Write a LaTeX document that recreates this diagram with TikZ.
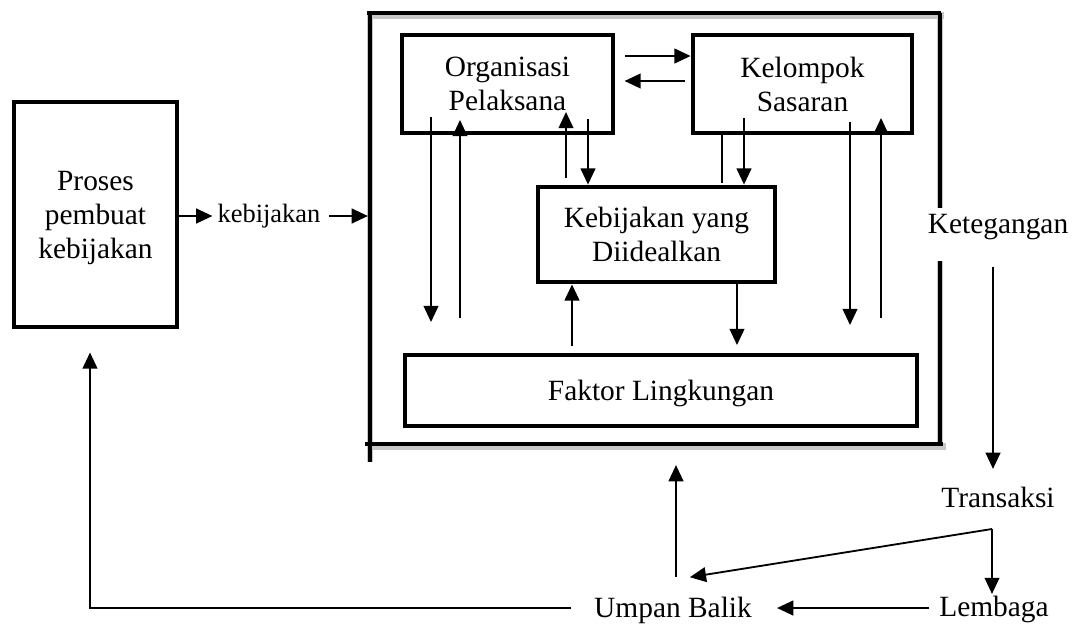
\documentclass[tikz,border=0pt]{standalone}
\usepackage{fontspec}
\setmainfont{Liberation Serif}
\usetikzlibrary{arrows.meta, positioning}

\tikzset{
  kotak/.style={draw, line width=3.4pt, align=center, text depth=0pt,
    font=\fontsize{20.9}{24.2}\selectfont},
  teks/.style={inner sep=1pt, font=\fontsize{20.9}{24.2}\selectfont},
  panah/.style={line width=1.3pt, -{Triangle[length=11.5pt,width=10.5pt]}},
  garis/.style={line width=1.3pt},
  bingkai/.style={line width=3.2pt},
  bayang/.style={line width=4.5pt, black!22},
}

\begin{document}
\begin{tikzpicture}[x=0.025cm, y=-0.025cm]
\useasboundingbox (0,0) rectangle (1079,626);

% bingkai luar
\coordinate (fA) at (370,13);
\coordinate (fB) at (940,13);
\coordinate (fC) at (940,208);
\coordinate (fD) at (940,261);
\coordinate (fE) at (940,444);
\coordinate (fF) at (370,462);
\begin{scope}[shift={(2.5,2.5)}]
\draw[bayang] (367,13) -- (941,13);
\draw[bayang] (fA) -- (fF);
\draw[bayang] (fB) -- (fC);
\draw[bayang] (fD) -- (fE);
\draw[bayang] (365,444) -- (943,444);
\end{scope}
\draw[bingkai] (367,13) -- (941,13);
\draw[bingkai] (fA) -- (fF);
\draw[bingkai] (fB) -- (fC);
\draw[bingkai] (fD) -- (fE);
\draw[bingkai] (365,444) -- (943,444);

% kotak
\node[kotak, minimum width=5.275cm, minimum height=2.45cm] (org) at (507.5,84) {Organisasi\\Pelaksana};
\node[kotak, minimum width=5.475cm, minimum height=2.45cm] (kel) at (802.5,84) {Kelompok\\Sasaran};
\node[kotak, minimum width=5.925cm, minimum height=2.375cm] (keb) at (656.5,234.5) {Kebijakan yang\\Diidealkan};
\node[kotak, minimum width=12.8cm, minimum height=1.775cm] (fak) at (661,390.5) {Faktor Lingkungan};
\node[kotak, minimum width=4.075cm, minimum height=5.625cm] (pro) at (95.5,214.5) {Proses\\pembuat\\kebijakan};

% teks lepas
\node[teks, anchor=base, font=\fontsize{18.8}{22}\selectfont] (lbl) at (269,222) {kebijakan};
\node[teks, anchor=base] (ket) at (998,233) {Ketegangan};
\node[teks, anchor=base] (tra) at (998,507) {Transaksi};
\node[teks, anchor=base] (lem) at (994,616) {Lembaga};
\node[teks, anchor=base] (ump) at (673,617) {Umpan Balik};

% proses ke implementasi
\draw[panah, shorten >=2.5pt] (pro.east |- 0,216) -- (lbl.west |- 0,216);
\draw[panah, shorten <=5pt, shorten >=1.5pt] (lbl.east |- 0,216) -- (fA |- 0,216);

% organisasi <-> kelompok
\draw[panah, shorten <=7pt] (org.east |- 0,56) -- (kel.west |- 0,56);
\draw[panah, shorten <=4pt, shorten >=6.5pt] (kel.west |- 0,81) -- (org.east |- 0,81);

% panah di dalam bingkai
\draw[panah] (431,117) -- (431,322);
\draw[panah] (460,318) -- (460,120);
\draw[panah] (566,178) -- (566,112);
\draw[panah] (588,119) -- (588,0 |- keb.north);
\draw[garis] (722,0 |- kel.south) -- (722,183);
\draw[panah] (744,118) -- (744,0 |- keb.north);
\draw[panah] (850,122) -- (850,325);
\draw[panah] (881,318) -- (881,118);
\draw[panah, shorten <=5pt] (572,0 |- fak.north) -- (572,0 |- keb.south);
\draw[panah] (737,0 |- keb.south) -- (737,345);

% sisi kanan dan umpan balik
\coordinate (tk) at (992,529);
\draw[panah, shorten <=18.5pt, shorten >=11.4pt] (ket.south -| 993,0) -- (tra.north -| 993,0);
\draw[panah] (tk) -- (lem.north -| tk);
\draw[panah] (tk) -- ([xshift=12pt,yshift=12.6pt]ump.north);
\draw[panah, shorten <=6pt, shorten >=16.8pt] (lem.west |- 0,608) -- (ump.east |- 0,608);
\draw[panah, shorten <=12.6pt, shorten >=15pt] (ump.north -| 676,0) -- (676,0 |- fE);
\draw[panah, shorten >=16.4pt] ([xshift=-15pt]ump.west |- 0,608) -- (90,608) -- (90,0 |- pro.south);
\end{tikzpicture}
\end{document}
